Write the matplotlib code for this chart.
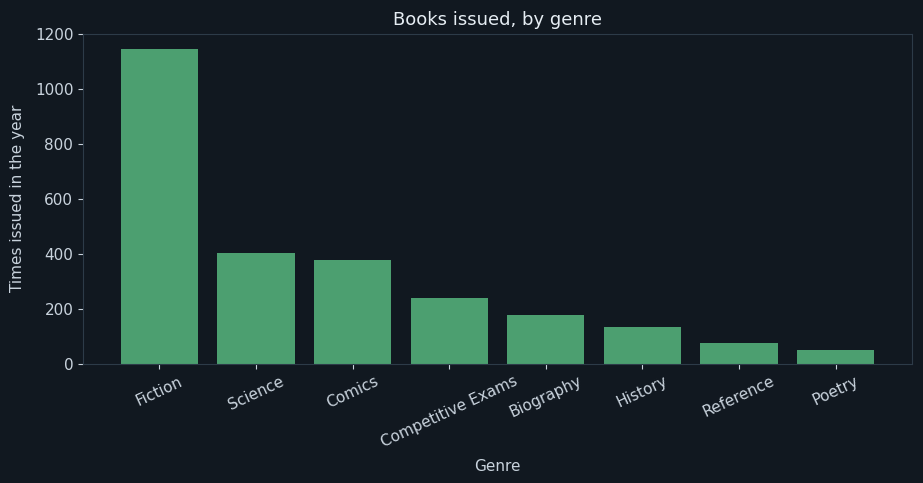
import matplotlib
matplotlib.use("Agg")
import matplotlib.pyplot as plt

genres = ["Fiction", "Science", "Comics", "Competitive Exams", "Biography",
          "History", "Reference", "Poetry"]
issued = [1144, 403, 378, 240, 178, 134, 76, 51]

bg = "#111820"
bar_color = "#4c9f70"
text_color = "#c9d3dd"
spine_color = "#2d3b48"

fig = plt.figure(figsize=(9.23, 4.83), dpi=100, facecolor=bg)
ax = fig.add_axes([0.09, 0.2464, 0.898, 0.6842], facecolor=bg)

ax.bar(genres, issued, width=0.8, color=bar_color)
ax.set_ylim(0, 1200)

ax.set_title("Books issued, by genre", color="#e6edf3", fontsize=13)
ax.set_xlabel("Genre", color=text_color, fontsize=11, labelpad=6)
ax.set_ylabel("Times issued in the year", color=text_color, fontsize=11, labelpad=7)
ax.tick_params(colors=text_color, labelsize=11)
ax.tick_params(axis="x", labelrotation=25)
for s in ax.spines.values():
    s.set_color(spine_color)

fig.savefig("out.png", facecolor=bg)
